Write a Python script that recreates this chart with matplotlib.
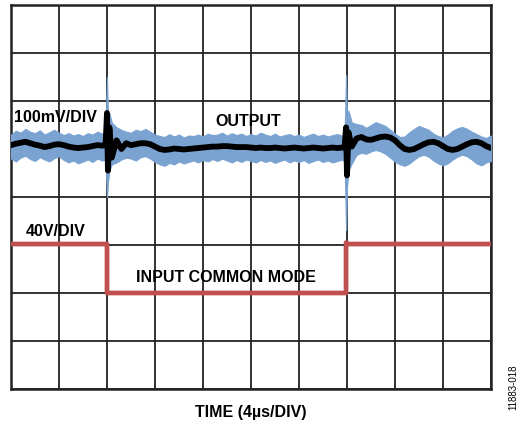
import numpy as np
import matplotlib.pyplot as plt

plt.rcParams['font.family'] = ['Liberation Sans', 'DejaVu Sans']

# time in divisions (4us/div), values in divisions
trace_t = [0.0, 0.1, 0.2, 0.3, 0.4, 0.5, 0.6, 0.7, 0.8, 0.9, 1.0, 1.1, 1.2, 1.3, 1.4, 1.5,
           1.6, 1.7, 1.8, 1.9, 1.97, 2.0, 2.02, 2.05, 2.1, 2.2, 2.3, 2.4, 2.5, 2.6, 2.7,
           2.8, 2.9, 3.0, 3.1, 3.2, 3.3, 3.4, 3.5, 3.6, 3.7, 3.8, 3.9, 4.0, 4.1, 4.2, 4.3,
           4.4, 4.5, 4.6, 4.7, 4.8, 4.9, 5.0, 5.1, 5.2, 5.3, 5.4, 5.5, 5.6, 5.7, 5.8, 5.9,
           6.0, 6.1, 6.2, 6.3, 6.4, 6.5, 6.6, 6.7, 6.8, 6.9, 6.95, 6.98, 7.0, 7.03, 7.1,
           7.2, 7.3, 7.4, 7.5, 7.6, 7.7, 7.8, 7.9, 8.0, 8.1, 8.2, 8.3, 8.4, 8.5, 8.6, 8.7,
           8.8, 8.9, 9.0, 9.1, 9.2, 9.3, 9.4, 9.5, 9.6, 9.7, 9.8, 9.9, 10.0]

# black (averaged) output
out_mid = [5.08, 5.11, 5.13, 5.15, 5.12, 5.09, 5.07, 5.04, 5.06, 5.09, 5.10, 5.08, 5.05,
           5.03, 5.02, 5.03, 5.04, 5.06, 5.08, 5.07, 5.08, 5.75, 4.55, 5.45, 4.82, 5.18,
           5.00, 5.12, 5.08, 5.10, 5.12, 5.12, 5.10, 5.05, 5.00, 4.98, 4.99, 5.01, 5.00,
           4.99, 5.00, 5.01, 5.02, 5.03, 5.04, 5.05, 5.05, 5.06, 5.06, 5.05, 5.04, 5.04,
           5.04, 5.03, 5.02, 5.03, 5.02, 5.02, 5.03, 5.02, 5.01, 5.02, 5.03, 5.02, 5.01,
           5.02, 5.03, 5.02, 5.01, 5.02, 5.03, 5.02, 5.03, 5.03, 5.45, 4.45, 5.35, 5.05,
           5.22, 5.25, 5.20, 5.19, 5.22, 5.25, 5.26, 5.24, 5.18, 5.08, 5.00, 4.98, 5.00,
           5.05, 5.10, 5.14, 5.15, 5.12, 5.06, 5.00, 4.98, 5.00, 5.05, 5.10, 5.14, 5.15,
           5.12, 5.06, 5.02]

# blue (raw) output envelope
env_hi = [5.30, 5.38, 5.34, 5.42, 5.36, 5.33, 5.39, 5.30, 5.35, 5.40, 5.34, 5.29, 5.33,
          5.28, 5.31, 5.27, 5.33, 5.30, 5.36, 5.32, 5.35, 6.50, 5.70, 5.75, 5.55, 5.45,
          5.40, 5.36, 5.34, 5.40, 5.37, 5.42, 5.36, 5.30, 5.27, 5.25, 5.31, 5.26, 5.30,
          5.24, 5.28, 5.27, 5.30, 5.26, 5.32, 5.29, 5.30, 5.34, 5.28, 5.33, 5.29, 5.32,
          5.27, 5.31, 5.28, 5.34, 5.30, 5.27, 5.32, 5.26, 5.29, 5.31, 5.27, 5.30, 5.25,
          5.29, 5.32, 5.27, 5.30, 5.26, 5.29, 5.31, 5.28, 5.30, 6.54, 5.60, 5.80, 5.55,
          5.52, 5.50, 5.44, 5.50, 5.56, 5.52, 5.48, 5.40, 5.32, 5.25, 5.26, 5.35, 5.42,
          5.48, 5.44, 5.40, 5.32, 5.27, 5.24, 5.30, 5.38, 5.43, 5.46, 5.42, 5.36, 5.31,
          5.26, 5.23, 5.28]
env_lo = [4.80, 4.74, 4.82, 4.86, 4.79, 4.75, 4.83, 4.78, 4.74, 4.81, 4.85, 4.77, 4.72,
          4.76, 4.70, 4.74, 4.78, 4.73, 4.80, 4.76, 4.78, 4.00, 4.30, 4.55, 4.68, 4.72,
          4.78, 4.82, 4.80, 4.76, 4.83, 4.85, 4.80, 4.73, 4.68, 4.65, 4.71, 4.68, 4.74,
          4.70, 4.73, 4.76, 4.72, 4.77, 4.74, 4.79, 4.75, 4.80, 4.76, 4.72, 4.77, 4.73,
          4.78, 4.75, 4.72, 4.77, 4.73, 4.76, 4.71, 4.75, 4.78, 4.72, 4.76, 4.73, 4.77,
          4.71, 4.75, 4.78, 4.73, 4.76, 4.72, 4.75, 4.78, 4.74, 3.31, 4.20, 4.55, 4.70,
          4.88, 4.92, 4.90, 4.95, 4.98, 4.95, 4.90, 4.82, 4.74, 4.68, 4.65, 4.70, 4.78,
          4.85, 4.88, 4.84, 4.76, 4.70, 4.66, 4.70, 4.78, 4.84, 4.88, 4.85, 4.78, 4.70,
          4.66, 4.72, 4.75]

# input common mode step
in_t = [0.0, 2.0, 2.0, 6.98, 6.98, 7.02, 10.0]
in_v = [3.02, 3.02, 2.0, 2.0, 3.05, 3.02, 3.02]

fig = plt.figure(figsize=(5.21, 4.23), dpi=100)
ax = fig.add_axes([0.0211, 0.0804, 0.9213, 0.9078])
ax.set_xlim(0, 10)
ax.set_ylim(0, 8)
ax.set_xticks(np.arange(0, 11, 1))
ax.set_yticks(np.arange(0, 9, 1))
ax.tick_params(length=0, labelbottom=False, labelleft=False)
ax.grid(True, color='#222222', linewidth=1.3)
for s in ax.spines.values():
    s.set_linewidth(1.8)
    s.set_color('#222222')

blue = '#7aa3d2'
ax.fill_between(trace_t, env_lo, env_hi, color=blue, linewidth=0.8, edgecolor=blue, zorder=3)
ax.plot(trace_t, out_mid, color='black', linewidth=4.2, zorder=4)
ax.plot(in_t, in_v, color='#c0504d', linewidth=3.4, zorder=4)

ax.text(0.06, 5.65, '100mV/DIV', fontsize=11.5, fontweight='bold', ha='left', va='center', zorder=5)
ax.text(4.94, 5.58, 'OUTPUT', fontsize=11.5, fontweight='bold', ha='center', va='center', zorder=5)
ax.text(0.94, 3.29, '40V/DIV', fontsize=11.5, fontweight='bold', ha='center', va='center', zorder=5)
ax.text(4.48, 2.33, 'INPUT COMMON MODE', fontsize=11.5, fontweight='bold', ha='center', va='center', zorder=5)

fig.text(0.482, 0.026, 'TIME (4µs/DIV)', fontsize=11.5, fontweight='bold', ha='center', va='center')
fig.text(0.985, 0.085, '11883-018', fontsize=7, rotation=90, ha='center', va='center')

fig.savefig('out.png', dpi=100)
